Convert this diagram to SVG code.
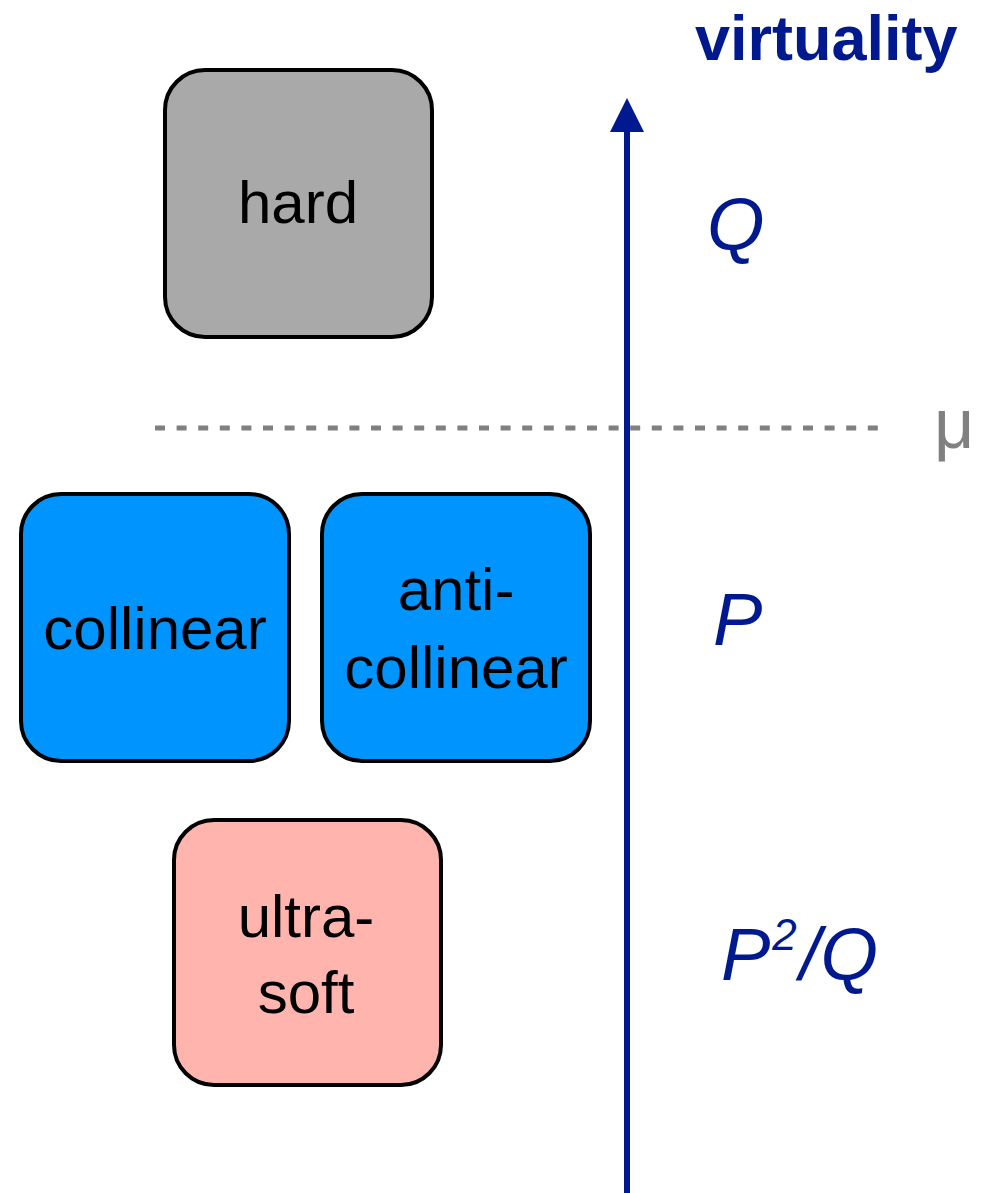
<svg xmlns="http://www.w3.org/2000/svg" width="990" height="1193" viewBox="0 0 990 1193">
<style>
.box{stroke:#000;stroke-width:4}
.lbl{font-family:"Liberation Sans",Arial,sans-serif;font-size:60px;fill:#000;text-anchor:middle}
.ax{font-family:"Liberation Sans",Arial,sans-serif;fill:#00198f;font-style:italic;font-size:74px}
</style>
<rect width="990" height="1193" fill="#fff"/>
<g id="connectors">
<line x1="155" y1="428" x2="884" y2="428" stroke="#808080" stroke-width="5" stroke-dasharray="10 11.6"/>
<line x1="627" y1="1193" x2="627" y2="128" stroke="#00198f" stroke-width="6"/>
<polygon points="627,98 610,132 644,132" fill="#00198f"/>
</g>
<g id="hard">
<rect class="box" x="165" y="70" width="267" height="267" rx="40" fill="#a9a9a9"/>
<text class="lbl" x="298" y="223">hard</text>
</g>
<g id="collinear">
<rect class="box" x="21" y="494" width="268" height="267" rx="40" fill="#0094ff"/>
<text class="lbl" x="155" y="649">collinear</text>
</g>
<g id="anticollinear">
<rect class="box" x="322" y="494" width="268" height="267" rx="40" fill="#0094ff"/>
<text class="lbl" x="456" y="610">anti-</text>
<text class="lbl" x="456" y="688">collinear</text>
</g>
<g id="ultrasoft">
<rect class="box" x="174" y="820" width="267" height="265" rx="40" fill="#ffb4ae"/>
<text class="lbl" x="306" y="937">ultra-</text>
<text class="lbl" x="306" y="1013">soft</text>
</g>
<g id="labels">
<text x="695" y="60" font-family="'Liberation Sans',Arial,sans-serif" font-weight="bold" font-size="63" fill="#00198f">virtuality</text>
<text class="ax" x="707" y="250">Q</text>
<text class="ax" x="713" y="645">P</text>
<text class="ax" x="721" y="980">P<tspan font-size="44" dx="2" dy="-30">2</tspan><tspan dx="3" dy="30">/Q</tspan></text>
<text x="934" y="448" font-family="'Liberation Sans',Arial,sans-serif" font-size="70" fill="#808080">μ</text>
</g>
</svg>
